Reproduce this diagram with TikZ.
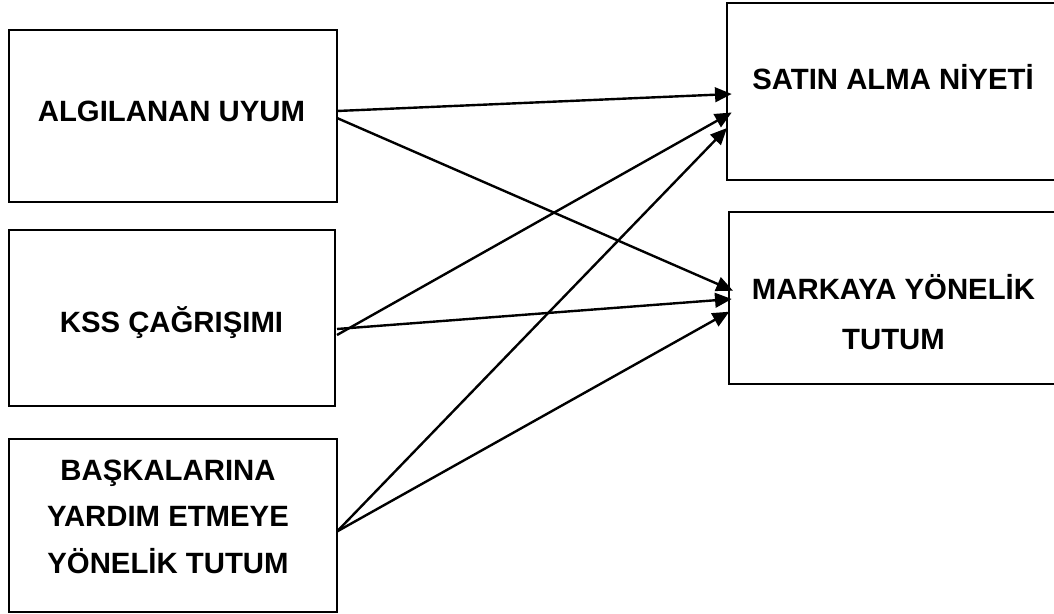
\documentclass[tikz,border=0pt]{standalone}
\usepackage{fontspec}
\setmainfont{Liberation Sans}
\usetikzlibrary{arrows.meta,calc}
\tikzset{
  box/.style={draw, line width=1.9pt, inner sep=0pt, outer sep=0pt, rectangle},
  lbl/.style={font=\fontsize{22pt}{26pt}\selectfont\bfseries, anchor=base, inner sep=0pt},
  conn/.style={line width=1.8pt, -{Triangle[length=12.5pt,width=11pt]}}
}
\begin{document}
\begin{tikzpicture}[x=0.75pt,y=-0.75pt]
\useasboundingbox (0,0) rectangle (1054,614);
% boxes
\node[box, minimum width=246pt, minimum height=129pt] (b1) at (173,116) {};
\node[box, minimum width=244.5pt, minimum height=132pt] (b2) at (172,318) {};
\node[box, minimum width=246pt, minimum height=129.75pt] (b3) at (173,525.5) {};
\node[box, minimum width=264pt, minimum height=132.75pt] (b4) at (903,91.5) {};
\node[box, minimum width=262.5pt, minimum height=129pt] (b5) at (904,298) {};
% texts
\node[lbl] (t1) at (171.5,121.7) {ALGILANAN UYUM};
\node[lbl] (t2) at (171.5,332) {KSS ÇAĞRIŞIMI};
\node[lbl] (t3a) at (168,480) {BAŞKALARINA};
\node[lbl] (t3b) at (168,526) {YARDIM ETMEYE};
\node[lbl] (t3c) at (168,573) {YÖNELİK TUTUM};
\node[lbl] (t4) at (893,89) {SATIN ALMA NİYETİ};
\node[lbl] (t5a) at (893.5,299) {MARKAYA YÖNELİK};
\node[lbl] (t5b) at (893.5,349) {TUTUM};
% connectors
\draw[conn] ($(b1.east)+(0,-5)$) -- ($(b4.west)+(4.7,2.5)$);
\draw[conn] ($(b1.east)+(0,2)$) -- ($(b5.west)+(4,-7.3)$);
\draw[conn] ($(b2.east)+(2,17)$) -- ($(b4.west)+(4.7,21)$);
\draw[conn] ($(b2.east)+(2,11)$) -- ($(b5.west)+(2.7,1)$);
\draw[conn] ($(b3.east)+(0,6)$) -- ($(b4.west)+(0,36.5)$);
\draw[conn] ($(b3.east)+(0,6)$) -- ($(b5.west)+(0.3,13.7)$);
\end{tikzpicture}
\end{document}
